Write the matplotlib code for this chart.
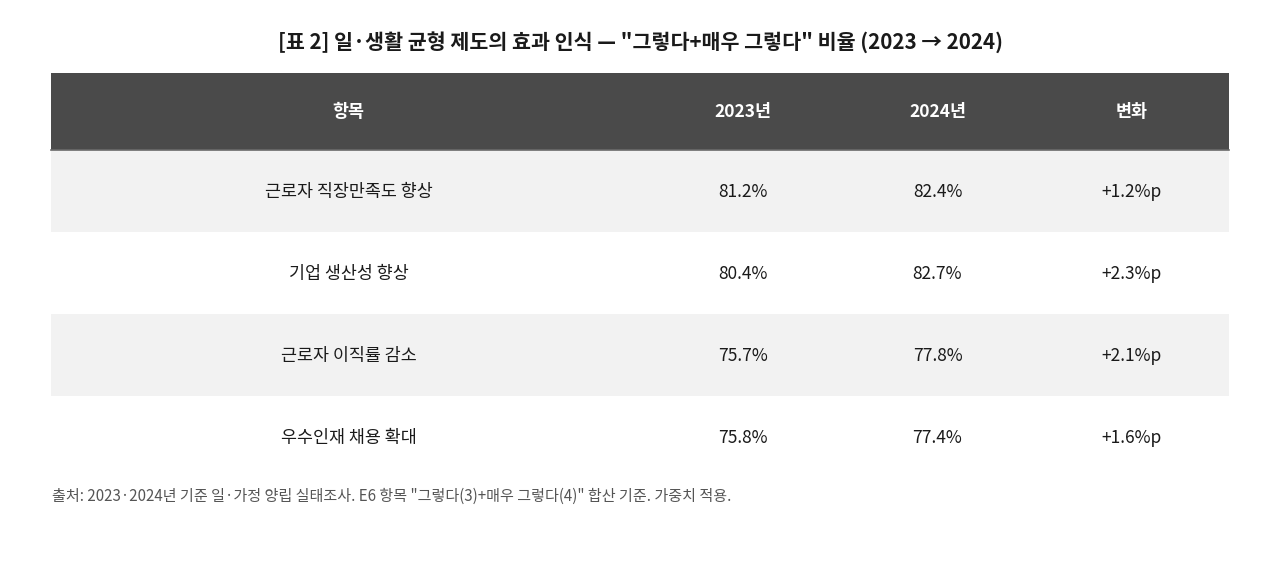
import matplotlib
matplotlib.use("Agg")
import matplotlib.pyplot as plt
from matplotlib.patches import Rectangle

plt.rcParams['font.family'] = ['Noto Sans CJK KR', 'DejaVu Sans']

title = '[표 2] 일·생활 균형 제도의 효과 인식 — "그렇다+매우 그렇다" 비율 (2023 → 2024)'
columns = ['항목', '2023년', '2024년', '변화']
items = ['근로자 직장만족도 향상', '기업 생산성 향상', '근로자 이직률 감소', '우수인재 채용 확대']
share_2023 = [81.2, 80.4, 75.7, 75.8]
share_2024 = [82.4, 82.7, 77.8, 77.4]
change = [1.2, 2.3, 2.1, 1.6]
note = '출처: 2023·2024년 기준 일·가정 양립 실태조사. E6 항목 "그렇다(3)+매우 그렇다(4)" 합산 기준. 가중치 적용.'

W, H = 1280, 569
fig = plt.figure(figsize=(W / 100, H / 100), dpi=100)
ax = fig.add_axes([0, 0, 1, 1])
ax.set_xlim(0, W)
ax.set_ylim(H, 0)
ax.axis('off')

# table geometry in pixels
left, right = 51, 1229
top = 73
head_h = 77
row_h = 82
first_w = (right - left) * 0.505
other_w = (right - left - first_w) / 3
col_x = [left + first_w / 2] + [left + first_w + other_w * (i + 0.5) for i in range(3)]

ax.text(W / 2, 42.5, title, ha='center', va='center', fontsize=14.85,
        fontweight='bold', color='#1a1a1a')

# header
ax.add_patch(Rectangle((left, top), right - left, head_h, color='#4a4a4a', lw=0))
ax.plot([left, right], [top + head_h, top + head_h], color='#6a6a6a', lw=1.2)
for x, c in zip(col_x, columns):
    ax.text(x, top + head_h / 2 + 0.5, c, ha='center', va='center', fontsize=12.5,
            fontweight='bold', color='white')

for i, name in enumerate(items):
    y0 = top + head_h + i * row_h
    if i % 2 == 0:
        ax.add_patch(Rectangle((left, y0), right - left, row_h, color='#f2f2f2', lw=0))
    yc = y0 + row_h / 2 + 0.5
    cells = [name, f'{share_2023[i]:.1f}%', f'{share_2024[i]:.1f}%', f'+{change[i]:.1f}%p']
    for x, s in zip(col_x, cells):
        ax.text(x, yc, s, ha='center', va='center', fontsize=12.5, color='#1a1a1a')

ax.text(52, 496, note, ha='left', va='center', fontsize=10.85, color='#555555')

fig.savefig('out.png', dpi=100)
